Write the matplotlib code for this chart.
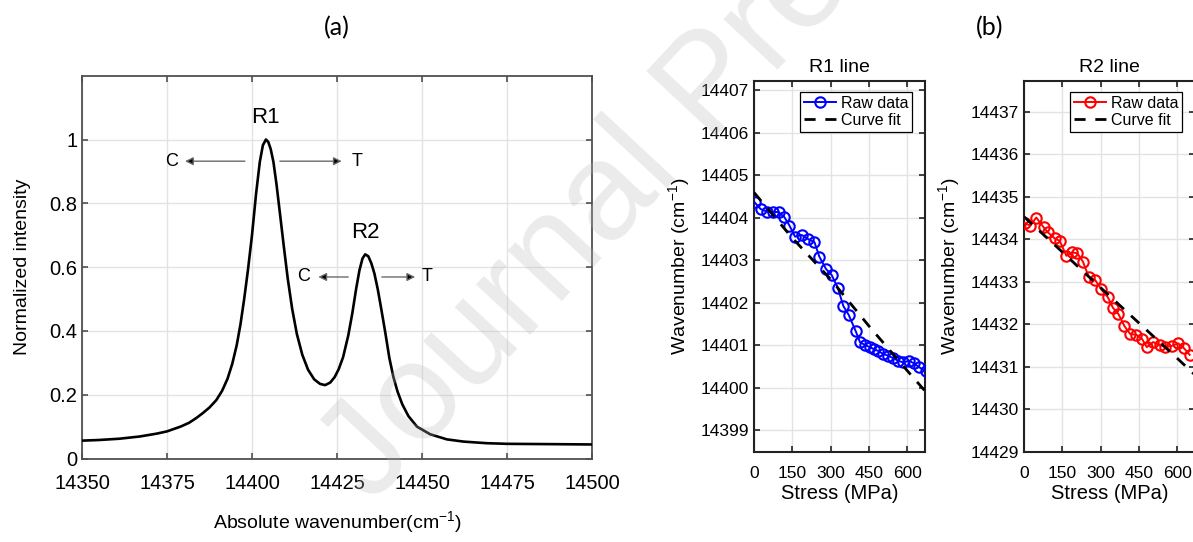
import matplotlib
matplotlib.use("Agg")
import matplotlib.pyplot as plt

# (a) spectrum
wavenumber = [14350, 14355, 14361, 14367, 14372, 14375, 14379, 14381.5, 14383.5, 14385.5,
              14387.5, 14389.5, 14391.2, 14392.8, 14394.2, 14395.5, 14396.6, 14397.7, 14398.8, 14400,
              14401.2, 14402.3, 14403.2, 14404.1, 14404.8, 14405.5, 14406.3, 14407.2, 14408.2, 14409.3,
              14410.5, 14411.8, 14413.2, 14414.8, 14416.5, 14418.3, 14420, 14421.5, 14423, 14424.3,
              14425.5, 14426.8, 14428.3, 14429.5, 14430.6, 14431.6, 14432.5, 14433.3, 14434.2, 14435.1,
              14436, 14437, 14438, 14439.2, 14440.4, 14441.6, 14442.8, 14444.2, 14446, 14448.5,
              14452.4, 14457.3, 14462.2, 14469, 14475, 14488, 14500]
intensity = [0.056, 0.058, 0.062, 0.069, 0.078, 0.085, 0.100, 0.112, 0.126, 0.142,
             0.160, 0.183, 0.212, 0.250, 0.297, 0.355, 0.420, 0.500, 0.590, 0.700,
             0.830, 0.930, 0.982, 1.0, 0.992, 0.970, 0.930, 0.860, 0.770, 0.670,
             0.565, 0.470, 0.390, 0.325, 0.278, 0.248, 0.234, 0.230, 0.238, 0.255,
             0.280, 0.318, 0.385, 0.455, 0.530, 0.590, 0.627, 0.640, 0.634, 0.612,
             0.580, 0.530, 0.470, 0.395, 0.315, 0.255, 0.210, 0.170, 0.133, 0.100,
             0.076, 0.060, 0.053, 0.048, 0.046, 0.045, 0.044]

# (b) R1 line
r1_stress = [2, 26, 50, 76, 96, 119, 139, 161, 187, 213, 237, 256, 282, 304, 328, 350,
             371, 399, 415, 435, 454, 471, 487, 506, 526, 546, 565, 585, 607, 627, 646, 673]
r1_wave = [14404.36, 14404.20, 14404.14, 14404.13, 14404.13, 14404.01, 14403.81, 14403.55,
           14403.59, 14403.49, 14403.42, 14403.08, 14402.79, 14402.65, 14402.35, 14401.92,
           14401.71, 14401.32, 14401.07, 14401.00, 14400.95, 14400.90, 14400.86, 14400.79,
           14400.75, 14400.69, 14400.63, 14400.59, 14400.63, 14400.57, 14400.48, 14400.39]
r1_fit_stress = [0, 150, 300, 450, 600, 680]
r1_fit = [14404.59, 14403.52, 14402.55, 14401.45, 14400.40, 14399.85]

# (b) R2 line
r2_stress = [2, 25, 48, 77, 94, 120, 140, 166, 188, 209, 231, 254, 279, 303, 329, 348,
             370, 393, 416, 440, 463, 481, 506, 531, 553, 579, 604, 626, 649]
r2_wave = [14434.38, 14434.32, 14434.51, 14434.28, 14434.16, 14434.02, 14433.96, 14433.61,
           14433.69, 14433.67, 14433.47, 14433.11, 14433.04, 14432.82, 14432.63, 14432.39,
           14432.24, 14431.96, 14431.77, 14431.75, 14431.65, 14431.46, 14431.58, 14431.51,
           14431.47, 14431.49, 14431.55, 14431.44, 14431.28]
r2_fit_stress = [0, 150, 300, 450, 600, 680]
r2_fit = [14434.53, 14433.70, 14432.86, 14432.03, 14431.20, 14430.75]

plt.rcParams['font.family'] = ['Liberation Sans', 'DejaVu Sans']
plt.rcParams['mathtext.fontset'] = 'custom'
plt.rcParams['mathtext.rm'] = 'Liberation Sans'
plt.rcParams['mathtext.it'] = 'Liberation Sans'

fig = plt.figure(figsize=(11.93, 5.42), dpi=100)

grid_kw = dict(color='#e3e3e3', lw=1.0)


def style_axes(ax, spine_color, spine_lw, size):
    ax.grid(True, **grid_kw)
    ax.set_axisbelow(True)
    for s in ax.spines.values():
        s.set_color(spine_color)
        s.set_linewidth(spine_lw)
    ax.tick_params(direction='in', top=True, right=True, length=4, width=1.2,
                   color=spine_color, labelsize=size)


# ---- panel (a)
ax = fig.add_axes([82 / 1193, 1 - 458.5 / 542, 510 / 1193, 382.8 / 542])
ax.plot(wavenumber, intensity, color='black', lw=1.9, zorder=3)
ax.set_xlim(14350, 14500)
ax.set_ylim(0, 1.2)
ax.set_xticks([14350, 14375, 14400, 14425, 14450, 14475, 14500])
ax.set_yticks([0, 0.2, 0.4, 0.6, 0.8, 1])
ax.set_yticklabels(['0', '0.2', '0.4', '0.6', '0.8', '1'])
style_axes(ax, '#505050', 1.3, 14.5)
ax.tick_params(axis='x', pad=11)
ax.set_xlabel('Absolute wavenumber(cm$^{\\mathrm{-1}}$)', fontsize=14)
ax.xaxis.set_label_coords(0.5, -0.132)
ax.set_ylabel('Normalized intensity', fontsize=14)
ax.yaxis.set_label_coords(-0.1, 0.5)

ax.text(14404, 1.07, 'R1', fontsize=16, ha='center', va='center')
ax.text(14433.3, 0.71, 'R2', fontsize=16, ha='center', va='center')

arrow_kw = dict(arrowstyle='-|>', fc='black', ec='#6a6a6a', lw=1.0,
                shrinkA=0, shrinkB=0, mutation_scale=12)
# R1 shift arrows
ax.annotate('', xy=(14380.3, 0.932), xytext=(14397.9, 0.932), arrowprops=arrow_kw)
ax.annotate('', xy=(14426.4, 0.932), xytext=(14408.2, 0.932), arrowprops=arrow_kw)
ax.text(14376.3, 0.932, 'C', fontsize=13, ha='center', va='center')
ax.text(14430.8, 0.932, 'T', fontsize=13, ha='center', va='center')
# R2 shift arrows
ax.annotate('', xy=(14419.5, 0.569), xytext=(14428.3, 0.569), arrowprops=arrow_kw)
ax.annotate('', xy=(14448.0, 0.569), xytext=(14438.2, 0.569), arrowprops=arrow_kw)
ax.text(14415.3, 0.569, 'C', fontsize=13, ha='center', va='center')
ax.text(14451.6, 0.569, 'T', fontsize=13, ha='center', va='center')

# ---- panel (b)
panels = [
    (754, r1_stress, r1_wave, r1_fit_stress, r1_fit, 'blue', 'R1 line',
     (14398.49, 14407.22), range(14399, 14408), (0, 670)),
    (1024, r2_stress, r2_wave, r2_fit_stress, r2_fit, 'red', 'R2 line',
     (14429.0, 14437.73), range(14429, 14438), (0, 670)),
]
for left, xs, ys, fx, fy, col, title, ylim, yticks, xlim in panels:
    bx = fig.add_axes([left / 1193, 1 - 451.7 / 542, 171 / 1193, 371 / 542])
    bx.plot(xs, ys, '-o', color=col, lw=1.4, ms=7.5, mfc='none', mew=1.5,
            label='Raw data', zorder=3)
    bx.plot(fx, fy, '--', color='black', lw=2.0, dashes=(4, 3.5),
            label='Curve fit', zorder=4)
    bx.set_xlim(*xlim)
    bx.set_ylim(*ylim)
    bx.set_xticks([0, 150, 300, 450, 600])
    bx.set_yticks(list(yticks))
    bx.get_yaxis().get_major_formatter().set_useOffset(False)
    style_axes(bx, '#222222', 1.5, 12.5)
    bx.tick_params(axis='x', pad=10)
    bx.set_title(title, fontsize=14, pad=6)
    bx.set_xlabel('Stress (MPa)', fontsize=14.5)
    bx.xaxis.set_label_coords(0.5, -0.088)
    bx.set_ylabel('Wavenumber (cm$^{\\mathrm{-1}}$)', fontsize=14)
    bx.yaxis.set_label_coords(-0.36, 0.5)
    leg = bx.legend(loc='upper right', bbox_to_anchor=(0.926, 0.97), fontsize=11.5,
                    frameon=True, fancybox=False, framealpha=1, edgecolor='black',
                    handlelength=2.0, handletextpad=0.3, labelspacing=0.12,
                    borderpad=0.25, borderaxespad=0)
    leg.get_frame().set_linewidth(0.9)

fig.text(337 / 1193, 1 - 28 / 542, '(a)', fontsize=18, family='Lato',
         ha='center', va='center')
fig.text(990 / 1193, 1 - 28 / 542, '(b)', fontsize=18, family='Lato',
         ha='center', va='center')

# watermark
fig.text(372 / 1193, 1 - 505 / 542, 'Journal Pre-proof', fontsize=100, color='#b8b8b8',
         alpha=0.28, rotation=47, rotation_mode='anchor', ha='left', va='baseline',
         zorder=10)

fig.savefig('out.png', dpi=100)
